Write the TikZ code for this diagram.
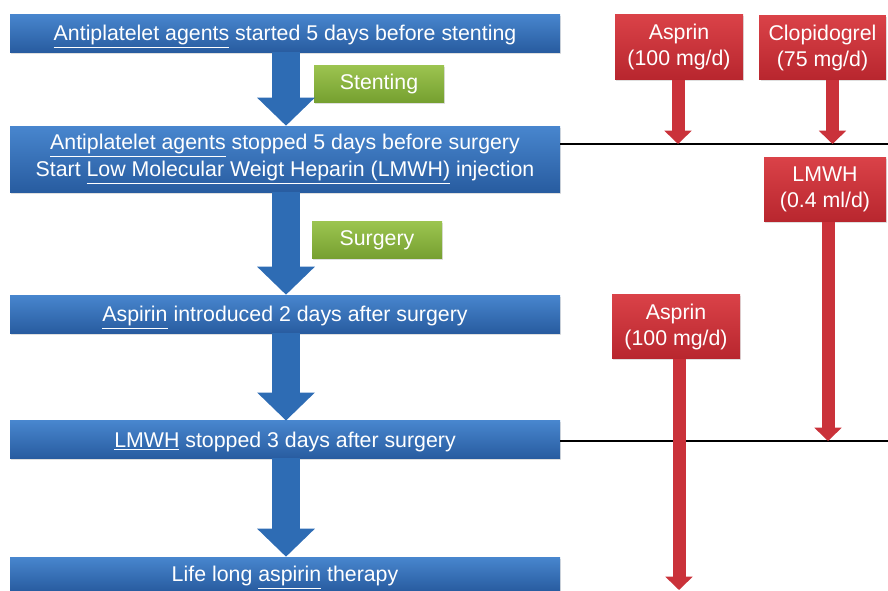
\documentclass[tikz,border=0pt]{standalone}
\usepackage{fontspec}
\setmainfont{Liberation Sans}
\usepackage{tikz}
\usetikzlibrary{arrows.meta,positioning,shadows}
\definecolor{stepB}{RGB}{46,108,180}
\definecolor{stepBtop}{RGB}{72,134,206}
\definecolor{stepBbot}{RGB}{40,92,160}
\definecolor{eventGtop}{RGB}{156,196,80}
\definecolor{eventGbot}{RGB}{118,160,48}
\definecolor{drugRtop}{RGB}{218,66,72}
\definecolor{drugRbot}{RGB}{184,38,46}
\definecolor{drugR}{RGB}{202,50,58}

\begin{document}
\begin{tikzpicture}[x=0.75pt, y=-0.75pt, font=\fontsize{16}{20}\selectfont]
  \useasboundingbox (0,0) rectangle (888,590);

  \tikzstyle{stepbox}=[rectangle, text=white, align=center, top color=stepBtop, bottom color=stepBbot,
        minimum width=412.5pt, inner sep=0pt, drop shadow={opacity=0.25, shadow xshift=1pt, shadow yshift=-1.2pt}]
  \tikzstyle{oneline}=[text height=11.5pt, text depth=0pt]
  \tikzstyle{eventbox}=[rectangle, text=white, top color=eventGtop, bottom color=eventGbot,
        minimum width=97.5pt, minimum height=27.75pt, inner sep=0pt, drop shadow={opacity=0.25, shadow xshift=1pt, shadow yshift=-1.2pt}]
  \tikzstyle{drugbox}=[rectangle, text=white, align=center, top color=drugRtop, bottom color=drugRbot,
        minimum height=48.5pt, inner sep=0pt, font=\fontsize{16}{19.5}\selectfont,
        drop shadow={opacity=0.25, shadow xshift=1pt, shadow yshift=-1.2pt}]
  \tikzstyle{flow}=[draw=stepB, line width=21pt, -{Triangle[width=42pt, length=21pt]}]
  \tikzstyle{dose}=[draw=drugR, line width=9.75pt, -{Triangle[width=20pt, length=10pt]}]
  \tikzstyle{timeline}=[draw=black, line width=1.5pt]

  % time steps
  \node[stepbox, oneline, minimum height=28.5pt] (start) at (285,33)
        {\underline{Antiplatelet agents} started 5 days before stenting};
  \node[stepbox, minimum height=49.5pt] (stop) at (285,159)
        {\underline{Antiplatelet agents} stopped 5 days before surgery\\
         Start \underline{Low Molecular Weigt Heparin (LMWH)} injection};
  \node[stepbox, oneline, minimum height=28.5pt] (intro) at (285,314)
        {\underline{Aspirin} introduced 2 days after surgery};
  \node[stepbox, oneline, minimum height=28pt] (lmwhstop) at (285,439.5)
        {\underline{LMWH} stopped 3 days after surgery};
  \node[stepbox, oneline, minimum height=25.5pt] (life) at (285,574)
        {Life long \underline{aspirin} therapy};

  % events
  \node[eventbox] (stenting) at (379,83.5) {Stenting};
  \node[eventbox] (surgery) at (377,240) {Surgery};

  % flow arrows
  \draw[flow] ([xshift=0.75pt]start.south) -- ([xshift=0.75pt]stop.north);
  \draw[flow] ([xshift=0.75pt]stop.south) -- ([xshift=0.75pt]intro.north);
  \draw[flow] ([xshift=0.75pt]intro.south) -- ([xshift=0.75pt]lmwhstop.north);
  \draw[flow] ([xshift=0.75pt]lmwhstop.south) -- ([xshift=0.75pt]life.north);

  % drugs
  \node[drugbox, minimum width=96pt] (asp1) at (679,47) {Asprin\\(100 mg/d)};
  \node[drugbox, minimum width=95pt] (clop) at (822.5,47.5) {Clopidogrel\\(75 mg/d)};
  \node[drugbox, minimum width=91.5pt] (lmwh) at (825,189.5) {LMWH\\(0.4 ml/d)};
  \node[drugbox, minimum width=96pt] (asp2) at (676,326.5) {Asprin\\(100 mg/d)};

  % time lines
  \coordinate (line1) at (888,144);
  \coordinate (line2) at (888,441);
  \coordinate (bottom) at (888,590);
  \draw[timeline] (stop.east |- line1) -- (line1);
  \draw[timeline] (lmwhstop.east |- line2) -- (line2);

  % dose arrows
  \draw[dose] ([xshift=-0.75pt]asp1.south) -- ([xshift=-0.75pt]asp1.south |- line1);
  \draw[dose] ([xshift=7.5pt]clop.south) -- ([xshift=7.5pt]clop.south |- line1);
  \draw[dose] ([xshift=2.25pt]lmwh.south) -- ([xshift=2.25pt]lmwh.south |- line2);
  \draw[dose] ([xshift=2.25pt]asp2.south) -- ([xshift=2.25pt]asp2.south |- bottom);
\end{tikzpicture}
\end{document}
